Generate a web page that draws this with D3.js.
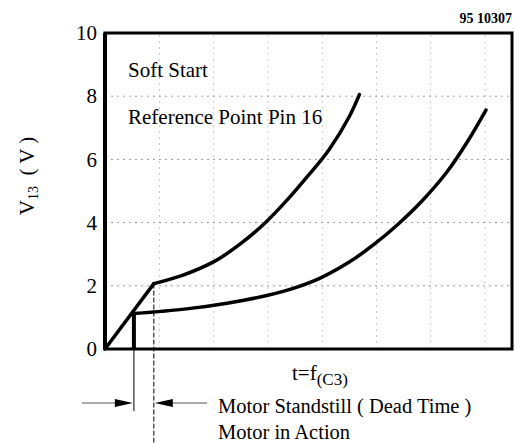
<!DOCTYPE html>
<html>
  <head>
    <meta charset="utf-8" />
    <script src="https://d3js.org/d3.v7.min.js"></script>
    <style>
      body { margin: 0; background: #fff; }
      .grid { stroke: #999; stroke-width: 1; stroke-dasharray: 2,4; }
      .curve { fill: none; stroke: #000; stroke-width: 3.5; stroke-linejoin: round; stroke-linecap: round; }
    </style>
  </head>
  <body>
    <svg id="chart" width="515" height="443"></svg>
    <script>
      // values (t in arbitrary units 0..100, V13 in volts)
      var yTicks = [0, 2, 4, 6, 8, 10];
      var gridY = [2, 4, 6, 8];
      var gridX = [13.4, 26.7, 40, 53.4, 66.7, 80, 93.4];

      // curve through the soft start ramp (motor standstill until t=12)
      var curve1T = [0, 12, 19, 27, 33, 39, 45, 50, 55, 60, 62.5];
      var curve1V = [0, 2.07, 2.33, 2.78, 3.3, 3.95, 4.75, 5.5, 6.3, 7.35, 8.05];

      // lower curve, branching at the end of dead time (t=7.1)
      var curve2T = [7.1, 20, 30, 40, 47, 53, 60, 66, 72, 78, 84, 89, 93.6];
      var curve2V = [1.12, 1.27, 1.45, 1.7, 1.95, 2.25, 2.75, 3.3, 3.95, 4.7, 5.6, 6.55, 7.56];

      var deadEnd = 7.1, actionStart = 12;
      var serif = "'Liberation Serif'";

      var svg = d3.select("#chart");
      var x = d3.scaleLinear().domain([0, 100]).range([105, 512]);
      var y = d3.scaleLinear().domain([0, 10]).range([349, 33]);

      // grid
      svg.selectAll(".gy").data(gridY).enter().append("line")
        .attr("class", "grid")
        .attr("x1", x(0)).attr("x2", x(100))
        .attr("y1", function(d) { return y(d); })
        .attr("y2", function(d) { return y(d); });
      svg.selectAll(".gx").data(gridX).enter().append("line")
        .attr("class", "grid")
        .attr("stroke-opacity", 0.5)
        .attr("y1", y(0)).attr("y2", y(10))
        .attr("x1", function(d) { return x(d); })
        .attr("x2", function(d) { return x(d); });

      // frame
      svg.append("rect")
        .attr("x", x(0)).attr("y", y(10))
        .attr("width", x(100) - x(0)).attr("height", y(0) - y(10))
        .attr("fill", "none").attr("stroke", "#000").attr("stroke-width", 3);
      svg.append("line")
        .attr("x1", x(0)).attr("x2", x(0)).attr("y1", y(10)).attr("y2", y(0))
        .attr("stroke", "#000").attr("stroke-width", 4);

      // y axis labels
      var yAxis = d3.axisLeft(y).tickValues(yTicks).tickSize(0).tickPadding(8);
      var ga = svg.append("g").attr("transform", "translate(" + x(0) + ",0)").call(yAxis);
      ga.select(".domain").remove();
      ga.selectAll("text").style("font-family", serif).style("font-size", "21px").attr("fill", "#000");

      var line = d3.line()
        .x(function(d) { return x(d[0]); })
        .y(function(d) { return y(d[1]); })
        .curve(d3.curveCatmullRom.alpha(0.5));

      var pts1 = curve1T.map(function(t, i) { return [t, curve1V[i]]; });
      var pts2 = curve2T.map(function(t, i) { return [t, curve2V[i]]; });

      // straight ramp, then smooth curve
      svg.append("path").attr("class", "curve")
        .attr("d", d3.line().x(function(d) { return x(d[0]); }).y(function(d) { return y(d[1]); })(pts1.slice(0, 2)));
      svg.append("path").attr("class", "curve").attr("d", line(pts1.slice(1)));
      svg.append("path").attr("class", "curve").attr("d", line(pts2));

      // thick standstill bar
      svg.append("line")
        .attr("x1", x(deadEnd)).attr("x2", x(deadEnd))
        .attr("y1", y(0)).attr("y2", y(curve2V[0]))
        .attr("stroke", "#000").attr("stroke-width", 4);

      // dead time marker lines
      svg.append("line")
        .attr("x1", x(deadEnd)).attr("x2", x(deadEnd))
        .attr("y1", y(0)).attr("y2", 411)
        .attr("stroke", "#000").attr("stroke-width", 1);
      svg.append("line")
        .attr("x1", x(actionStart)).attr("x2", x(actionStart))
        .attr("y1", y(curve1V[1])).attr("y2", 443)
        .attr("stroke", "#000").attr("stroke-width", 1)
        .attr("stroke-dasharray", "5,2");

      // arrows
      var ay = 403;
      svg.append("line").attr("x1", 82).attr("x2", x(deadEnd) - 14)
        .attr("y1", ay).attr("y2", ay).attr("stroke", "#555").attr("stroke-width", 1);
      svg.append("path")
        .attr("d", "M" + (x(deadEnd) - 1) + "," + ay + "L" + (x(deadEnd) - 19) + "," + (ay - 4) + "L" + (x(deadEnd) - 19) + "," + (ay + 4) + "Z")
        .attr("fill", "#000");
      svg.append("line").attr("x1", x(actionStart) + 14).attr("x2", 207)
        .attr("y1", ay).attr("y2", ay).attr("stroke", "#555").attr("stroke-width", 1);
      svg.append("path")
        .attr("d", "M" + (x(actionStart) + 1) + "," + ay + "L" + (x(actionStart) + 19) + "," + (ay - 4) + "L" + (x(actionStart) + 19) + "," + (ay + 4) + "Z")
        .attr("fill", "#000");

      // texts
      function txt(px, py, size) {
        return svg.append("text").attr("x", px).attr("y", py)
          .style("font-size", size + "px").style("font-family", serif).attr("fill", "#000");
      }
      txt(128, 77, 21).text("Soft Start");
      txt(128, 124, 21).text("Reference Point Pin 16");
      txt(512, 23, 14).style("font-weight", "bold").attr("text-anchor", "end").text("95 10307");

      var tl = txt(292, 380, 21);
      tl.append("tspan").text("t=f");
      tl.append("tspan").style("font-size", "17px").attr("dy", 5).text("(C3)");

      txt(218, 413, 20.5).text("Motor Standstill ( Dead Time )");
      txt(218, 439, 20.5).text("Motor in Action");

      var yl = svg.append("text").attr("transform", "translate(34,176) rotate(-90)")
        .attr("text-anchor", "middle").style("font-size", "21px").style("font-family", serif);
      yl.append("tspan").text("V");
      yl.append("tspan").style("font-size", "14px").attr("dy", 4).text("13");
      yl.append("tspan").attr("dy", -4).text("\u00a0 ( V )");
    </script>
  </body>
</html>
